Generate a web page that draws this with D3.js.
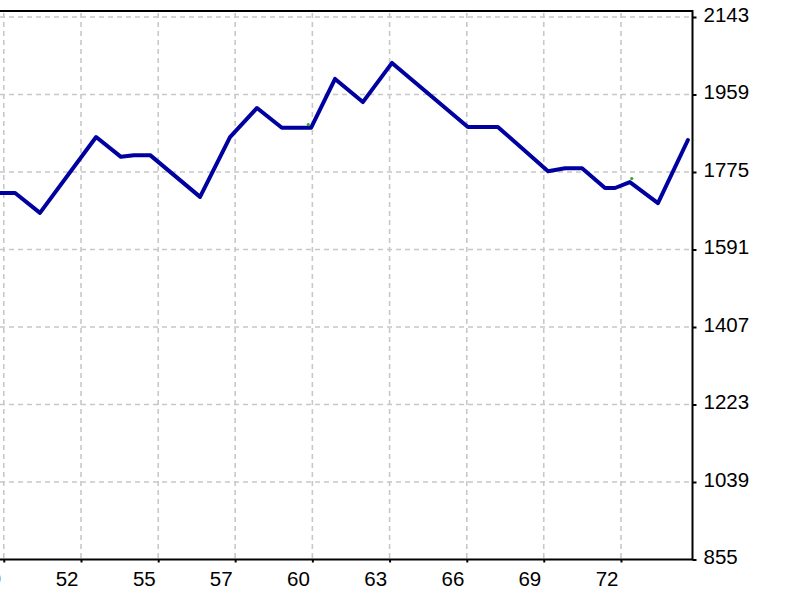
<!DOCTYPE html>
<html>
<head>
<meta charset="utf-8">
<script src="https://cdn.jsdelivr.net/npm/d3@7"></script>
<style>
  body { margin: 0; background: #fff; }
  svg { display: block; }
  .lbl { font-family: "Liberation Sans", Arial, sans-serif; font-size: 20.5px; fill: #000; }
</style>
</head>
<body>
<div id="chart"></div>
<script>
// balance curve
var xVals = [49.2, 49.76, 50.68, 52.76, 53.68, 54.16, 54.76, 56.61, 57.72, 58.72, 59.64, 60.72, 61.61, 62.64, 63.72, 66.53, 67.64, 69.5, 70.13, 70.76, 71.61, 71.98, 72.53, 73.57, 74.68];
var yVals = [1725, 1725, 1678, 1858, 1811, 1815, 1815, 1716, 1858, 1927, 1880, 1880, 1996, 1941, 2034, 1882, 1882, 1777, 1784, 1784, 1737, 1737, 1751, 1701, 1851];

// little green marks sitting on the line
var dotX = [60.62, 72.6];
var dotY = [1884, 1756];

var xTickVals = [49.34, 52.2, 55.06, 57.91, 60.77, 63.63, 66.49, 69.34, 72.2];
var xTickLabels = ["49", "52", "55", "57", "60", "63", "66", "69", "72"];
var yTickVals = [855, 1039, 1223, 1407, 1591, 1775, 1959, 2143];
var yTickLabels = ["855", "1039", "1223", "1407", "1591", "1775", "1959", "2143"];

var W = 800, H = 600;
var plot = { left: 0, right: 692.5, top: 11, bottom: 559.5 };

var svg = d3.select("#chart").append("svg")
  .attr("width", W).attr("height", H);

var x = d3.scaleLinear().domain([49.2, 74.85]).range([plot.left, plot.right]);
var y = d3.scaleLinear().domain([855, 2143]).range([plot.bottom, 17]);

// grid
var grid = svg.append("g")
  .attr("stroke", "#c8c8c8")
  .attr("stroke-width", 1.6)
  .attr("stroke-dasharray", "5,4");

grid.selectAll(".vg").data(xTickVals).enter().append("line")
  .attr("x1", function(d) { return x(d); })
  .attr("x2", function(d) { return x(d); })
  .attr("y1", plot.top + 2)
  .attr("y2", plot.bottom);

grid.selectAll(".hg").data(yTickVals.slice(1)).enter().append("line")
  .attr("x1", plot.left)
  .attr("x2", plot.right)
  .attr("y1", function(d) { return y(d); })
  .attr("y2", function(d) { return y(d); });

// the line
var pts = xVals.map(function(v, i) { return [v, yVals[i]]; });
var line = d3.line()
  .x(function(d) { return x(d[0]); })
  .y(function(d) { return y(d[1]); });

svg.append("path")
  .datum(pts)
  .attr("d", line)
  .attr("fill", "none")
  .attr("stroke", "#0000a0")
  .attr("stroke-width", 4)
  .attr("stroke-linejoin", "round")
  .attr("stroke-linecap", "round");

svg.selectAll(".dot").data(dotX).enter().append("circle")
  .attr("cx", function(d) { return x(d); })
  .attr("cy", function(d, i) { return y(dotY[i]) - 1.5; })
  .attr("r", 1.6)
  .attr("fill", "#22aa22");

// frame (left side is off the picture)
svg.append("path")
  .attr("d", "M" + plot.left + "," + plot.top + "H" + plot.right + "V" + plot.bottom + "H" + plot.left)
  .attr("fill", "none")
  .attr("stroke", "#000")
  .attr("stroke-width", 2);

// right axis
var yAxis = d3.axisRight(y)
  .tickValues(yTickVals)
  .tickSize(4)
  .tickPadding(8)
  .tickFormat(function(d, i) { return yTickLabels[i]; });

var ya = svg.append("g")
  .attr("transform", "translate(" + plot.right + ",0)")
  .call(yAxis);
ya.select(".domain").remove();
ya.selectAll("line").attr("stroke", "#000").attr("stroke-width", 2);
ya.selectAll("text")
  .attr("class", "lbl")
  .attr("dy", null)
  .attr("y", 4)
  .attr("x", 11)
  .attr("dominant-baseline", "auto");

// bottom axis, labels sit left of their tick
var xAxis = d3.axisBottom(x)
  .tickValues(xTickVals)
  .tickSize(3)
  .tickFormat(function(d, i) { return xTickLabels[i]; });

var xa = svg.append("g")
  .attr("transform", "translate(0," + plot.bottom + ")")
  .call(xAxis);
xa.select(".domain").remove();
xa.selectAll("line").attr("stroke", "#000").attr("stroke-width", 2);
xa.selectAll("text")
  .attr("class", "lbl")
  .attr("text-anchor", "end")
  .attr("x", -3)
  .attr("dy", null)
  .attr("y", 26.5);
</script>
</body>
</html>
